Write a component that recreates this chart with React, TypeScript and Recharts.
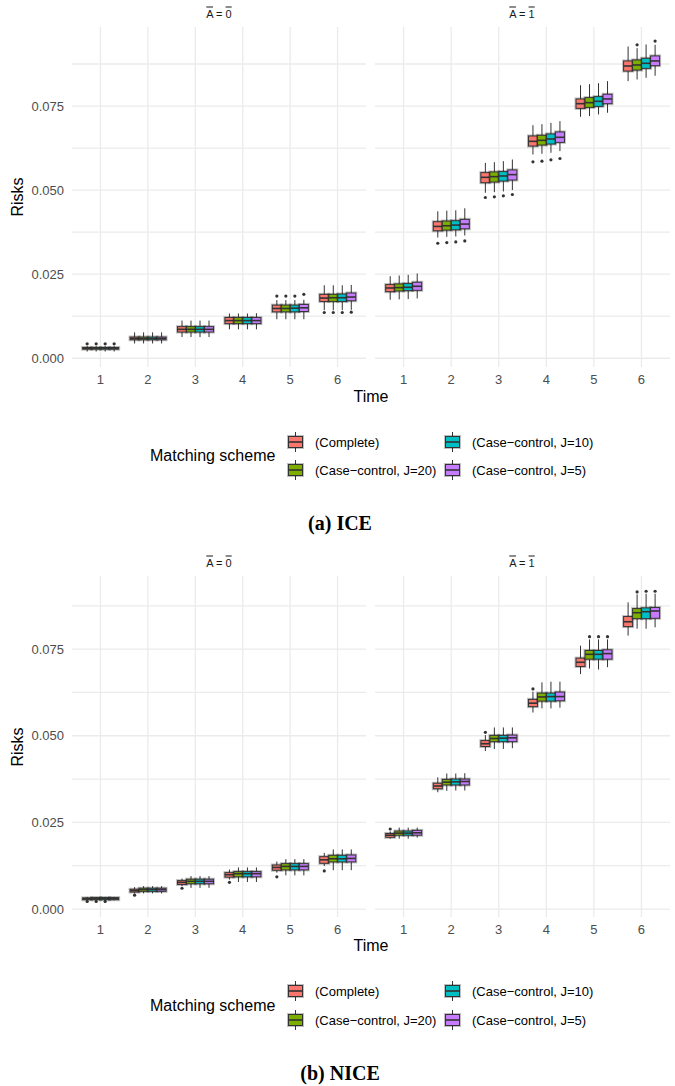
import { ComposedChart, Bar, XAxis, YAxis, CartesianGrid } from 'recharts';

const times = [1, 2, 3, 4, 5, 6];
const schemes = ['(Complete)', '(Case−control, J=20)', '(Case−control, J=10)', '(Case−control, J=5)'];
const colors = ['#F8766D', '#7CAE00', '#00BFC4', '#C77CFF'];
const yTicks = [0, 0.0125, 0.025, 0.0375, 0.05, 0.0625, 0.075, 0.0875];
const yMajor = [0, 0.025, 0.05, 0.075];

// each entry: [lower whisker, q1, median, q3, upper whisker]
// ICE, A = 0
const ice0Complete = [[0.0020, 0.0027, 0.0030, 0.0032, 0.0036], [0.0044, 0.0055, 0.0059, 0.0063, 0.0077], [0.0063, 0.0078, 0.0086, 0.0094, 0.0112], [0.0086, 0.0103, 0.0112, 0.0121, 0.0133], [0.0116, 0.0138, 0.0148, 0.0158, 0.0173], [0.0143, 0.0169, 0.0179, 0.0190, 0.0217]];
const ice0J20 = [[0.0020, 0.0027, 0.0030, 0.0032, 0.0036], [0.0044, 0.0055, 0.0059, 0.0063, 0.0077], [0.0063, 0.0078, 0.0086, 0.0094, 0.0112], [0.0086, 0.0103, 0.0112, 0.0121, 0.0133], [0.0116, 0.0138, 0.0148, 0.0158, 0.0173], [0.0143, 0.0169, 0.0180, 0.0190, 0.0217]];
const ice0J10 = [[0.0020, 0.0027, 0.0030, 0.0032, 0.0036], [0.0044, 0.0055, 0.0059, 0.0063, 0.0077], [0.0063, 0.0078, 0.0086, 0.0094, 0.0112], [0.0086, 0.0103, 0.0112, 0.0121, 0.0133], [0.0116, 0.0138, 0.0149, 0.0158, 0.0173], [0.0143, 0.0169, 0.0180, 0.0191, 0.0217]];
const ice0J5 = [[0.0020, 0.0027, 0.0030, 0.0032, 0.0036], [0.0044, 0.0055, 0.0059, 0.0063, 0.0077], [0.0063, 0.0078, 0.0086, 0.0094, 0.0112], [0.0086, 0.0103, 0.0112, 0.0121, 0.0134], [0.0116, 0.0139, 0.0150, 0.0160, 0.0174], [0.0144, 0.0171, 0.0182, 0.0194, 0.0218]];
const ice0Out = [
  [[0.0043], [], [], [], [0.0185], [0.0136]],
  [[0.0043], [], [], [], [0.0185], [0.0136]],
  [[0.0043], [], [], [], [0.0185], [0.0136]],
  [[0.0043], [], [], [], [0.0190], [0.0137]],
];

// ICE, A = 1
const ice1Complete = [[0.0174, 0.0198, 0.0209, 0.0219, 0.0244], [0.0359, 0.0379, 0.0392, 0.0406, 0.0437], [0.0492, 0.0522, 0.0538, 0.0552, 0.0581], [0.0606, 0.0631, 0.0645, 0.0661, 0.0693], [0.0718, 0.0743, 0.0757, 0.0771, 0.0812], [0.0824, 0.0854, 0.0869, 0.0884, 0.0927]];
const ice1J20 = [[0.0175, 0.0200, 0.0210, 0.0221, 0.0246], [0.0361, 0.0381, 0.0394, 0.0408, 0.0439], [0.0494, 0.0524, 0.0540, 0.0554, 0.0583], [0.0608, 0.0634, 0.0648, 0.0663, 0.0696], [0.0720, 0.0746, 0.0760, 0.0775, 0.0815], [0.0829, 0.0857, 0.0872, 0.0887, 0.0922]];
const ice1J10 = [[0.0176, 0.0201, 0.0211, 0.0222, 0.0248], [0.0362, 0.0382, 0.0396, 0.0409, 0.0440], [0.0496, 0.0527, 0.0542, 0.0555, 0.0586], [0.0611, 0.0637, 0.0652, 0.0667, 0.0700], [0.0725, 0.0749, 0.0764, 0.0778, 0.0818], [0.0834, 0.0862, 0.0877, 0.0892, 0.0933]];
const ice1J5 = [[0.0178, 0.0202, 0.0214, 0.0226, 0.0252], [0.0365, 0.0385, 0.0399, 0.0413, 0.0446], [0.0500, 0.0530, 0.0546, 0.0560, 0.0591], [0.0616, 0.0642, 0.0657, 0.0673, 0.0705], [0.0730, 0.0757, 0.0771, 0.0785, 0.0824], [0.0840, 0.0870, 0.0884, 0.0899, 0.0932]];
const ice1Out = [
  [[], [0.0342], [0.0478], [0.0584], [], []],
  [[], [0.0344], [0.0480], [0.0586], [], [0.0932]],
  [[], [0.0346], [0.0483], [0.0590], [], []],
  [[], [0.0349], [0.0487], [0.0594], [], [0.0943]],
];

// NICE, A = 0
const nice0Complete = [[0.0024, 0.0027, 0.0030, 0.0032, 0.0035], [0.0045, 0.0049, 0.0053, 0.0057, 0.0063], [0.0066, 0.0071, 0.0077, 0.0082, 0.0088], [0.0085, 0.0092, 0.0099, 0.0105, 0.0114], [0.0105, 0.0112, 0.0120, 0.0127, 0.0137], [0.0124, 0.0132, 0.0142, 0.0151, 0.0162]];
const nice0J20 = [[0.0024, 0.0027, 0.0030, 0.0033, 0.0035], [0.0045, 0.0051, 0.0056, 0.0060, 0.0066], [0.0061, 0.0073, 0.0080, 0.0086, 0.0095], [0.0078, 0.0093, 0.0102, 0.0108, 0.0120], [0.0097, 0.0113, 0.0123, 0.0131, 0.0144], [0.0112, 0.0136, 0.0145, 0.0155, 0.0172]];
const nice0J10 = [[0.0024, 0.0027, 0.0030, 0.0033, 0.0035], [0.0045, 0.0051, 0.0056, 0.0060, 0.0066], [0.0061, 0.0073, 0.0080, 0.0086, 0.0095], [0.0078, 0.0093, 0.0102, 0.0108, 0.0120], [0.0097, 0.0113, 0.0123, 0.0131, 0.0144], [0.0112, 0.0136, 0.0145, 0.0155, 0.0172]];
const nice0J5 = [[0.0025, 0.0027, 0.0030, 0.0033, 0.0035], [0.0045, 0.0051, 0.0056, 0.0060, 0.0066], [0.0061, 0.0073, 0.0080, 0.0086, 0.0095], [0.0078, 0.0093, 0.0102, 0.0108, 0.0120], [0.0097, 0.0113, 0.0123, 0.0131, 0.0144], [0.0112, 0.0136, 0.0146, 0.0156, 0.0172]];
const nice0Out = [
  [[0.0022], [0.0040], [0.0060], [0.0077], [0.0093], [0.0110]],
  [[0.0022], [], [], [], [], []],
  [[0.0022], [], [], [], [], []],
  [[], [], [], [], [], []],
];

// NICE, A = 1
const nice1Complete = [[0.0203, 0.0207, 0.0213, 0.0218, 0.0224], [0.0337, 0.0347, 0.0355, 0.0363, 0.0380], [0.0456, 0.0469, 0.0477, 0.0486, 0.0502], [0.0567, 0.0584, 0.0594, 0.0605, 0.0627], [0.0678, 0.0700, 0.0712, 0.0724, 0.0760], [0.0789, 0.0815, 0.0829, 0.0844, 0.0885]];
const nice1J20 = [[0.0203, 0.0213, 0.0219, 0.0225, 0.0235], [0.0341, 0.0358, 0.0366, 0.0374, 0.0391], [0.0462, 0.0483, 0.0492, 0.0501, 0.0524], [0.0579, 0.0600, 0.0612, 0.0623, 0.0654], [0.0694, 0.0721, 0.0735, 0.0746, 0.0778], [0.0809, 0.0838, 0.0855, 0.0867, 0.0908]];
const nice1J10 = [[0.0203, 0.0213, 0.0219, 0.0225, 0.0235], [0.0342, 0.0358, 0.0367, 0.0375, 0.0391], [0.0462, 0.0483, 0.0493, 0.0501, 0.0524], [0.0579, 0.0600, 0.0613, 0.0623, 0.0656], [0.0691, 0.0721, 0.0735, 0.0746, 0.0778], [0.0809, 0.0838, 0.0858, 0.0869, 0.0910]];
const nice1J5 = [[0.0206, 0.0213, 0.0220, 0.0227, 0.0235], [0.0342, 0.0358, 0.0368, 0.0375, 0.0392], [0.0464, 0.0483, 0.0494, 0.0502, 0.0524], [0.0581, 0.0601, 0.0613, 0.0626, 0.0656], [0.0698, 0.0721, 0.0737, 0.0748, 0.0778], [0.0813, 0.0839, 0.0860, 0.0870, 0.0910]];
const nice1Out = [
  [[0.0231], [], [0.0510], [0.0635], [], []],
  [[], [], [], [], [0.0786], [0.0915]],
  [[], [], [], [], [0.0786], [0.0917]],
  [[], [], [], [], [0.0786], [0.0917]],
];

const font = '"Liberation Sans", Arial, sans-serif';
const ink = '#333333';

const boxShape = (j: number) => (props: any) => {
  const { x, y, width, height, payload } = props;
  const [lo, q1, med, q3, hi] = payload.b[j];
  const top = Math.min(y, y + height);
  const bot = Math.max(y, y + height);
  const k = (bot - top) / (q3 - q1);
  const py = (v: number) => bot - (v - q1) * k;
  const cx = x + width / 2;
  return (
    <g>
      <line x1={cx} x2={cx} y1={py(q3)} y2={py(hi)} stroke={ink} strokeWidth={1} />
      <line x1={cx} x2={cx} y1={py(q1)} y2={py(lo)} stroke={ink} strokeWidth={1} />
      <rect x={x} y={top} width={width} height={bot - top} fill="none" stroke="#000" strokeOpacity={0.25} strokeWidth={3} />
      <rect x={x} y={top} width={width} height={bot - top} fill={colors[j]} stroke={ink} strokeWidth={1} />
      <line x1={x} x2={x + width} y1={py(med)} y2={py(med)} stroke={ink} strokeWidth={1.6} />
      {payload.o[j].map((v: number, i: number) => (
        <circle key={i} cx={cx} cy={py(v)} r={1.6} fill={ink} />
      ))}
    </g>
  );
};

function Facet({ boxes, outs, domain, width, plotHeight, showY }: any) {
  const rows = times.map((t, i) => ({
    time: t,
    b: boxes.map((s: number[][]) => s[i]),
    o: outs.map((s: number[][]) => s[i]),
  }));
  return (
    <ComposedChart
      width={width}
      height={plotHeight + 30}
      data={rows}
      margin={{ top: 0, right: 0, bottom: 0, left: 0 }}
      barCategoryGap="12.5%"
      barGap={0}
    >
      <CartesianGrid stroke="#EBEBEB" strokeWidth={1.3} horizontalValues={yTicks} verticalValues={times} />
      <XAxis
        dataKey="time"
        type="number"
        domain={[0.4, 6.6]}
        ticks={times}
        allowDataOverflow
        tickLine={false}
        axisLine={false}
        height={30}
        tick={{ fill: '#4D4D4D', fontSize: 13, fontFamily: font }}
      />
      <YAxis
        type="number"
        domain={domain}
        ticks={yTicks}
        allowDataOverflow
        hide={!showY}
        width={72}
        tickLine={false}
        axisLine={false}
        tick={{ fill: '#4D4D4D', fontSize: 13, fontFamily: font }}
        tickFormatter={(v: number) => (yMajor.includes(v) ? v.toFixed(3) : '')}
      />
      {schemes.map((s, j) => (
        <Bar
          key={s}
          dataKey={(r: any) => [r.b[j][1], r.b[j][3]]}
          shape={boxShape(j)}
          isAnimationActive={false}
        />
      ))}
    </ComposedChart>
  );
}

function Txt({ x, y, size, children, style }: any) {
  return (
    <div
      style={{
        position: 'absolute',
        left: x,
        top: y,
        transform: 'translate(-50%, -50%)',
        fontSize: size,
        lineHeight: 1,
        whiteSpace: 'nowrap',
        ...style,
      }}
    >
      {children}
    </div>
  );
}

function StripLabel({ x, y, val }: any) {
  return (
    <Txt x={x} y={y} size={11} style={{ color: '#1A1A1A' }}>
      <span style={{ textDecoration: 'overline' }}>A</span> = <span style={{ textDecoration: 'overline' }}>{val}</span>
    </Txt>
  );
}

function LegendKey({ x, y, color }: any) {
  return (
    <svg style={{ position: 'absolute', left: x, top: y - 11 }} width={17} height={22}>
      <line x1={8.5} x2={8.5} y1={1} y2={21} stroke={ink} strokeWidth={1} />
      <rect x={1.5} y={5.5} width={14} height={11} fill="none" stroke="#000" strokeOpacity={0.25} strokeWidth={3} />
      <rect x={1.5} y={5.5} width={14} height={11} fill={color} stroke={ink} strokeWidth={1} />
      <line x1={1.5} x2={15.5} y1={11} y2={11} stroke={ink} strokeWidth={1.6} />
    </svg>
  );
}

function Legend({ top }: { top: number }) {
  const cols = [287, 444];
  const rowsY = [top, top + 28.5];
  const order = [0, 1, 2, 3];
  return (
    <>
      <Txt x={150} y={top + 14.5} size={16} style={{ transform: 'translate(0, -50%)', color: '#000' }}>
        Matching scheme
      </Txt>
      {order.map((j) => {
        const col = j < 2 ? 0 : 1;
        const row = j % 2;
        return (
          <div key={j}>
            <LegendKey x={cols[col]} y={rowsY[row]} color={colors[j]} />
            <Txt x={cols[col] + 28} y={rowsY[row]} size={13} style={{ transform: 'translate(0, -50%)', color: '#000' }}>
              {schemes[j]}
            </Txt>
          </div>
        );
      })}
    </>
  );
}

function Panel({ top, plotHeight, domain, left0, left1, out0, out1, caption, legendTop, captionY, timeY }: any) {
  return (
    <>
      <StripLabel x={219} y={top - 13} val="0" />
      <StripLabel x={522} y={top - 13} val="1" />
      <div style={{ position: 'absolute', left: 0, top }}>
        <Facet boxes={left0} outs={out0} domain={domain} width={366} plotHeight={plotHeight} showY />
      </div>
      <div style={{ position: 'absolute', left: 375, top }}>
        <Facet boxes={left1} outs={out1} domain={domain} width={295} plotHeight={plotHeight} showY={false} />
      </div>
      <Txt x={18} y={top + plotHeight / 2} size={16} style={{ transform: 'translate(-50%, -50%) rotate(-90deg)' }}>
        Risks
      </Txt>
      <Txt x={371} y={timeY} size={16}>
        Time
      </Txt>
      <Legend top={legendTop} />
      <Txt x={340} y={captionY} size={20} style={{ fontFamily: '"Liberation Serif", serif', fontWeight: 'bold' }}>
        {caption}
      </Txt>
    </>
  );
}

export default function App() {
  return (
    <div
      style={{
        position: 'absolute',
        left: 0,
        top: 0,
        width: 675,
        height: 1086,
        background: '#fff',
        fontFamily: font,
        overflow: 'hidden',
      }}
    >
      <Panel
        top={27}
        plotHeight={340}
        domain={[-0.0026, 0.0985]}
        left0={[ice0Complete, ice0J20, ice0J10, ice0J5]}
        left1={[ice1Complete, ice1J20, ice1J10, ice1J5]}
        out0={ice0Out}
        out1={ice1Out}
        caption="(a) ICE"
        legendTop={441.5}
        captionY={523}
        timeY={397}
      />
      <Panel
        top={576}
        plotHeight={341}
        domain={[-0.0023, 0.0961]}
        left0={[nice0Complete, nice0J20, nice0J10, nice0J5]}
        left1={[nice1Complete, nice1J20, nice1J10, nice1J5]}
        out0={nice0Out}
        out1={nice1Out}
        caption="(b) NICE"
        legendTop={991}
        captionY={1073}
        timeY={946}
      />
    </div>
  );
}
